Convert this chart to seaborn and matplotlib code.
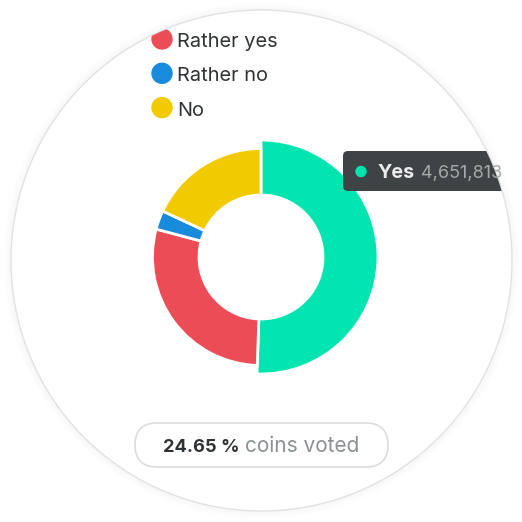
import matplotlib
matplotlib.use("Agg")
import matplotlib.pyplot as plt
import seaborn as sns
from matplotlib.patches import Circle, FancyBboxPatch

# ---- data ----
categories = ["Yes", "Rather yes", "Rather no", "No"]
votes = [4651813, 2630000, 260000, 1660000]
colors = ["#03e5b0", "#ec4c55", "#188bdc", "#f1ca00"]
legend_shown = ["Rather yes", "Rather no", "No"]
hovered = "Yes"
hovered_label = "4,651,813"
voted_pct = "24.65 %"
voted_label = "coins voted"

sns.set_theme(style="white")
plt.rcParams["font.family"] = ["Inter", "DejaVu Sans"]

W = 522
fig = plt.figure(figsize=(5.22, 5.22), dpi=100)
fig.patch.set_facecolor("white")
ax = fig.add_axes([0, 0, 1, 1])


def Y(y):
    return W - y


cx, cy, R = 261.5, Y(260.5), 250.5

# soft shadow around the card
for k in range(1, 9):
    ax.add_patch(Circle((cx, cy), R + k, facecolor="black", edgecolor="none",
                        alpha=0.005, zorder=0))
card = Circle((cx, cy), R, facecolor="white", edgecolor="#e2e2e2", lw=1.0, zorder=1)
ax.add_patch(card)
clip = Circle((cx, cy), R - 0.5, transform=ax.transData)

# ---- donut ----
wedges, _ = ax.pie(votes, colors=colors, startangle=90, counterclock=False,
                   center=(261, Y(257)), radius=108.5,
                   wedgeprops=dict(width=46.5, edgecolor="white", linewidth=2))
for w, name in zip(wedges, categories):
    w.set_zorder(2)
    if name == hovered:
        w.set_radius(117)
        w.set_width(117 - 62)

# ---- legend ----
txt_dark = "#2f3335"
for i, name in enumerate(legend_shown):
    yc = 39 + 34.3 * i
    dot = Circle((162, Y(yc)), 10, color=colors[categories.index(name)], zorder=3)
    ax.add_patch(dot)
    dot.set_clip_path(clip)
    t = ax.text(177, Y(yc + 8), name, va="baseline", ha="left", fontsize=14.4,
                color=txt_dark, zorder=3)
    t.set_clip_path(clip)

# ---- tooltip ----
tip = FancyBboxPatch((343, Y(191)), 220, 40,
                     boxstyle="round,pad=0,rounding_size=5",
                     facecolor="#3e4345", edgecolor="none", zorder=5)
ax.add_patch(tip)
tip.set_clip_path(clip)
tdot = Circle((361, Y(171.5)), 5, color=colors[categories.index(hovered)], zorder=6)
ax.add_patch(tdot)
t1 = ax.text(378, Y(178), hovered, fontsize=14.2, fontweight="bold", color="#ececec",
             va="baseline", ha="left", zorder=6)
t2 = ax.text(421, Y(178), hovered_label, fontsize=13, color="#a3a8a9",
             va="baseline", ha="left", zorder=6)
t1.set_clip_path(clip)
t2.set_clip_path(clip)

# ---- bottom pill ----
pill = FancyBboxPatch((135, Y(467)), 253, 44,
                      boxstyle="round,pad=0,rounding_size=22",
                      facecolor="white", edgecolor="#dcdcdc", lw=1.2, zorder=3)
ax.add_patch(pill)
ax.text(163, Y(452), voted_pct, fontsize=13.2, fontweight="bold", color=txt_dark,
        va="baseline", ha="left", zorder=4)
ax.text(245, Y(452), voted_label, fontsize=15, color="#8b9093",
        va="baseline", ha="left", zorder=4)

ax.set_xlim(0, W)
ax.set_ylim(0, W)
ax.set_aspect("equal")
ax.axis("off")

fig.savefig("out.png", dpi=100, facecolor="white")
